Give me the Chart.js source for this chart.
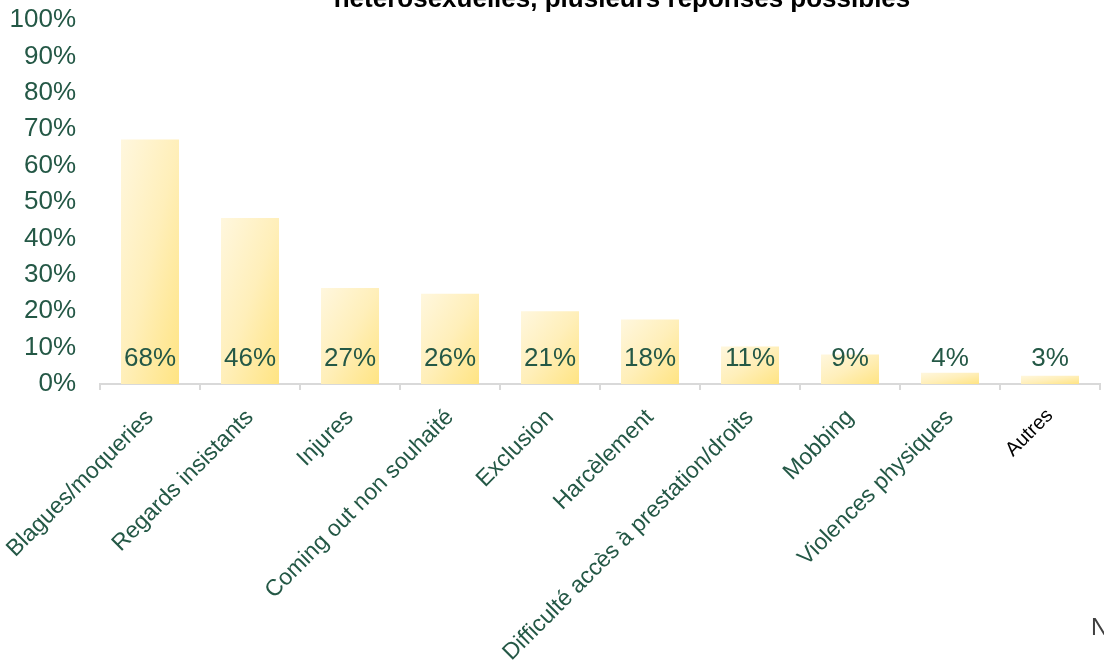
<!DOCTYPE html>
<html>
<head>
<meta charset="utf-8">
<script src="https://cdn.jsdelivr.net/npm/chart.js@4"></script>
<style>
    body { margin: 0; background: #fff; }
    #wrap { width: 1104px; height: 671px; }
</style>
</head>
<body>
<div id="wrap"><canvas id="chart" width="1104" height="671"></canvas></div>
<script>
const categories = [
    'Blagues/moqueries', 'Regards insistants', 'Injures', 'Coming out non souhaité',
    'Exclusion', 'Harcèlement', 'Difficulté accès à prestation/droits', 'Mobbing',
    'Violences physiques', 'Autres'
];
// bar heights (%)
const values = [67.2, 45.6, 26.4, 24.8, 20.0, 17.7, 10.3, 8.1, 3.1, 2.3];
// value labels as printed on the bars
const valueLabels = ['68%', '46%', '27%', '26%', '21%', '18%', '11%', '9%', '4%', '3%'];
const yTickValues = [0, 10, 20, 30, 40, 50, 60, 70, 80, 90, 100];

const titleText = 'hétérosexuelles, plusieurs réponses possibles';
const green = '#245846';
const fontFamily = '"Liberation Sans", Arial, sans-serif';

// Excel style diagonal fill (scaled with the shape) + labels + clipped texts
const extrasPlugin = {
    id: 'extras',
    beforeDatasetsDraw(chart) {
        const ctx = chart.ctx;
        chart.getDatasetMeta(0).data.forEach(bar => {
            const w = bar.width;
            const left = bar.x - w / 2;
            const top = Math.min(bar.y, bar.base);
            const h = Math.abs(bar.base - bar.y);
            // isolines run along the bar's anti-diagonal
            const t = (2 * w * h) / (h * h + w * w || 1);
            const g = ctx.createLinearGradient(left, top, left + h * t, top + w * t);
            g.addColorStop(0, '#FFF7DE');
            g.addColorStop(0.5, '#FFEFBA');
            g.addColorStop(1, '#FFE483');
            bar.options.backgroundColor = g;
        });
    },
    afterDatasetsDraw(chart) {
        const ctx = chart.ctx;
        const yScale = chart.scales.y;
        ctx.save();
        ctx.font = '26px ' + fontFamily;
        ctx.fillStyle = green;
        ctx.textAlign = 'center';
        ctx.textBaseline = 'middle';
        chart.getDatasetMeta(0).data.forEach((bar, i) => {
            ctx.fillText(valueLabels[i], bar.x, yScale.getPixelForValue(0) - 25);
        });
        ctx.restore();
    },
    afterDraw(chart) {
        const ctx = chart.ctx;
        ctx.save();
        ctx.font = 'bold 26px ' + fontFamily;
        ctx.fillStyle = '#000';
        ctx.textAlign = 'center';
        ctx.textBaseline = 'alphabetic';
        ctx.fillText(titleText, 622, 7);
        ctx.font = '24px ' + fontFamily;
        ctx.fillStyle = '#404040';
        ctx.textAlign = 'left';
        ctx.fillText('N', 1091, 635);
        ctx.restore();
    }
};

new Chart(document.getElementById('chart'), {
    type: 'bar',
    data: {
        labels: categories,
        datasets: [{
            data: values,
            // scriptable so each bar keeps its own options (own gradient)
            backgroundColor: () => '#FFEBA6',
            borderWidth: 0,
            barPercentage: 0.58,
            categoryPercentage: 1
        }]
    },
    options: {
        responsive: false,
        animation: false,
        layout: { padding: { top: 20, right: 4, left: 0, bottom: 0 } },
        plugins: {
            legend: { display: false },
            tooltip: { enabled: false }
        },
        scales: {
            x: {
                afterFit: scale => {
                    scale.height = 287;
                    scale.paddingLeft = 0;
                    scale.paddingRight = 0;
                },
                grid: {
                    display: true,
                    drawOnChartArea: false,
                    drawTicks: true,
                    tickLength: 6,
                    color: '#D9D9D9',
                    lineWidth: 2
                },
                border: { color: '#D9D9D9', width: 2 },
                ticks: {
                    autoSkip: false,
                    minRotation: 45,
                    maxRotation: 45,
                    padding: 14,
                    color: c => c.index === 9 ? '#000' : green,
                    font: c => c.index === 9
                        ? { family: fontFamily, size: 20 }
                        : { family: fontFamily, size: 23 }
                }
            },
            y: {
                min: 0,
                max: 100,
                afterFit: scale => {
                    scale.width = 100;
                    scale.paddingTop = 0;
                    scale.paddingBottom = 0;
                },
                afterBuildTicks: scale => {
                    scale.ticks = yTickValues.map(v => ({ value: v }));
                },
                grid: { display: false, drawTicks: false },
                border: { display: false },
                ticks: {
                    padding: 24,
                    color: green,
                    font: { family: fontFamily, size: 26 },
                    callback: v => v + '%'
                }
            }
        }
    },
    plugins: [extrasPlugin]
});
</script>
</body>
</html>
